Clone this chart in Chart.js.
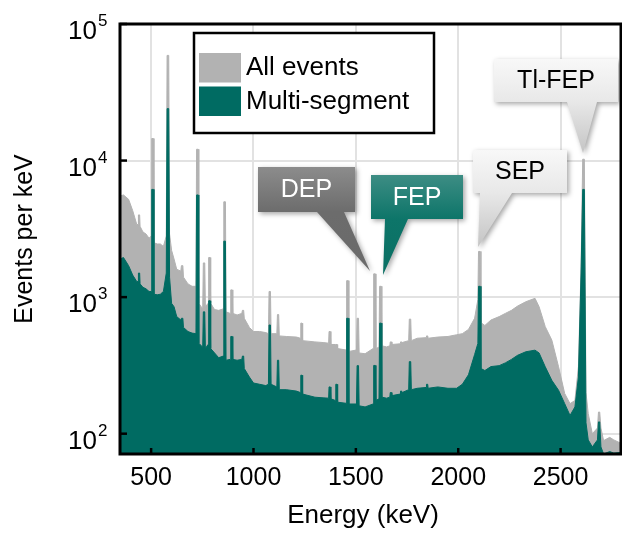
<!DOCTYPE html>
<html>
<head>
<meta charset="utf-8">
<script src="https://cdn.jsdelivr.net/npm/chart.js@4/dist/chart.umd.min.js"></script>
<style>
  html, body { margin: 0; padding: 0; background: #fff; }
  #wrap { width: 622px; height: 534px; }
</style>
</head>
<body>
<div id="wrap"><canvas id="spectrumChart" width="622" height="534"></canvas></div>
<script>
// Energia de cada punto (keV)
var energies = [
  348, 365, 390, 410, 430, 436, 438, 444, 446, 460,
  475, 490, 500, 503, 511, 514, 530, 545, 560, 574,
  578, 586, 590, 600, 612, 625, 645, 648, 655, 658,
  680, 700, 719, 722, 730, 733, 752, 755, 762, 765,
  778, 781, 788, 791, 810, 830, 852, 855, 863, 866,
  886, 889, 896, 899, 920, 943, 946, 952, 955, 980,
  1000, 1030, 1060, 1073, 1076, 1083, 1086, 1114, 1117, 1123,
  1126, 1160, 1210, 1229, 1231, 1237, 1240, 1300, 1340, 1367,
  1369, 1375, 1378, 1400, 1402, 1408, 1411, 1452, 1455, 1463,
  1466, 1503, 1506, 1513, 1516, 1545, 1584, 1587, 1595, 1598,
  1613, 1616, 1624, 1627, 1650, 1666, 1668, 1674, 1676, 1716,
  1718, 1724, 1726, 1758, 1761, 1768, 1771, 1800, 1843, 1845,
  1851, 1853, 1900, 1950, 1992, 2020, 2050, 2080, 2096, 2099,
  2107, 2111, 2130, 2160, 2200, 2230, 2260, 2290, 2330, 2375,
  2395, 2425, 2457, 2490, 2520, 2546, 2570, 2587, 2600, 2608,
  2616, 2624, 2635, 2655, 2680, 2685, 2691, 2697, 2710, 2740,
  2760, 2795
];

// Eventos por keV, todos los eventos
var allEvents = [
  5500, 5600, 5200, 4300, 3400, 3400, 4000, 4000, 3300, 3000,
  2900, 2700, 2800, 14500, 14500, 2500, 2450, 2450, 2350, 2800,
  58900, 58900, 2900, 2200, 1900, 1600, 1550, 1700, 1700, 1400,
  1250, 1200, 1200, 12100, 12100, 900, 820, 1780, 1780, 850,
  900, 1950, 1950, 900, 810, 800, 820, 4990, 4990, 780,
  760, 1130, 1130, 760, 740, 760, 800, 800, 700, 600,
  560, 560, 550, 540, 1100, 1100, 540, 540, 745, 745,
  520, 515, 510, 500, 645, 645, 480, 470, 465, 460,
  560, 560, 450, 450, 450, 450, 420, 410, 1320, 1320,
  400, 410, 700, 700, 390, 385, 420, 1480, 1480, 420,
  430, 1200, 1200, 440, 432, 440, 470, 470, 450, 455,
  470, 470, 465, 480, 690, 690, 480, 500, 505, 520,
  520, 500, 510, 515, 530, 540, 580, 700, 960, 2160,
  2160, 650, 620, 680, 720, 760, 800, 860, 925, 980,
  850, 608, 485, 309, 197, 166, 175, 309, 1670, 10230,
  10230, 200, 140, 100, 110, 144, 144, 110, 89, 94,
  90, 85
];

// Eventos por keV, multi-segmento
var multiSegment = [
  1900, 1950, 1700, 1450, 1300, 1300, 1500, 1500, 1250, 1180,
  1150, 1100, 1100, 6150, 6150, 1050, 1040, 1050, 1100, 1500,
  24000, 24000, 1400, 900, 850, 720, 680, 700, 700, 600,
  560, 545, 540, 5600, 5600, 460, 430, 780, 780, 420,
  450, 940, 940, 420, 390, 360, 370, 2570, 2570, 345,
  350, 515, 515, 350, 345, 350, 370, 370, 300, 260,
  235, 230, 225, 230, 625, 625, 230, 220, 345, 345,
  210, 210, 205, 200, 268, 268, 195, 185, 183, 182,
  220, 220, 180, 175, 230, 230, 170, 167, 700, 700,
  165, 165, 315, 315, 160, 157, 165, 316, 316, 175,
  180, 645, 645, 185, 182, 185, 200, 200, 190, 195,
  205, 205, 200, 210, 337, 337, 210, 215, 218, 230,
  230, 215, 220, 215, 215, 230, 270, 380, 458, 1200,
  1200, 300, 290, 310, 315, 330, 350, 375, 398, 409,
  390, 309, 246, 208, 166, 136, 157, 260, 1500, 6150,
  6150, 120, 90, 80, 90, 122, 122, 80, 71, 74,
  72, 73
];

var seriesLabels = ['All events', 'Multi-segment'];
var xTicks = [500, 1000, 1500, 2000, 2500];
var yTicks = [100, 1000, 10000, 100000];
var callouts = ['DEP', 'FEP', 'SEP', 'Tl-FEP'];

var GRAY = '#b2b2b2';
var TEAL = '#006b62';
var FONT = "'Liberation Sans', Arial, sans-serif";

function toPoints(values) {
    return energies.map(function(e, i) { return { x: e, y: values[i] }; });
}

// Cuadro de leyenda con borde negro
var legendBox = {
    id: 'legendBox',
    afterDatasetsDraw: function(chart) {
        var ctx = chart.ctx;
        ctx.save();
        ctx.fillStyle = '#fff';
        ctx.fillRect(194, 33, 240, 100);
        ctx.lineWidth = 2.5;
        ctx.strokeStyle = '#000';
        ctx.strokeRect(194, 33, 240, 100);
        var colors = [GRAY, TEAL];
        ctx.font = '26px ' + FONT;
        ctx.textBaseline = 'middle';
        seriesLabels.forEach(function(label, i) {
            ctx.fillStyle = colors[i];
            ctx.fillRect(199, 53 + i * 33.5, 42, 29.5);
            ctx.fillStyle = '#000';
            ctx.fillText(label, 246, 68 + i * 33.5);
        });
        ctx.restore();
    }
};

// Globos de texto sobre los picos
var calloutPlugin = {
    id: 'callouts',
    afterDatasetsDraw: function(chart) {
        var ctx = chart.ctx;
        var shapes = [
            { box: [258, 167, 97, 45], base: [317, 344], tip: [370, 271], top: '#8c8c8c', bottom: '#6c6c6c', tipColor: '#6a6a6a', text: '#fff' },
            { box: [371, 175, 92, 44], base: [385, 408], tip: [383, 275], top: '#3d8d84', bottom: '#0d7569', tipColor: '#0a6f63', text: '#fff' },
            { box: [473, 150, 94, 43], base: [480, 512], tip: [478, 247], top: '#f8f8f8', bottom: '#e8e8e8', tipColor: '#c4c4c4', text: '#000' },
            { box: [494, 59, 124, 43], base: [567, 597], tip: [583, 153], top: '#f8f8f8', bottom: '#e8e8e8', tipColor: '#c4c4c4', text: '#000' }
        ];
        ctx.save();
        shapes.forEach(function(s, i) {
            var x0 = s.box[0], y0 = s.box[1], x1 = x0 + s.box[2], y1 = y0 + s.box[3];
            var grad = ctx.createLinearGradient(0, y0, 0, s.tip[1]);
            var split = (y1 - y0) / (s.tip[1] - y0);
            grad.addColorStop(0, s.top);
            grad.addColorStop(split, s.bottom);
            grad.addColorStop(1, s.tipColor);
            ctx.beginPath();
            ctx.moveTo(x0, y0);
            ctx.lineTo(x1, y0);
            ctx.lineTo(x1, y1);
            ctx.lineTo(s.base[1], y1);
            ctx.lineTo(s.tip[0], s.tip[1]);
            ctx.lineTo(s.base[0], y1);
            ctx.lineTo(x0, y1);
            ctx.closePath();
            ctx.shadowColor = 'rgba(0,0,0,0.35)';
            ctx.shadowBlur = 5;
            ctx.shadowOffsetX = 2;
            ctx.shadowOffsetY = 2;
            ctx.fillStyle = grad;
            ctx.fill();
            ctx.shadowColor = 'transparent';
            ctx.fillStyle = s.text;
            ctx.font = '25px ' + FONT;
            ctx.textAlign = 'center';
            ctx.textBaseline = 'middle';
            ctx.fillText(callouts[i], (x0 + x1) / 2, (y0 + y1) / 2 + 1);
        });
        ctx.restore();
    }
};

// Marco, marcas hacia adentro, etiquetas 10^n y titulos de ejes
var framePlugin = {
    id: 'frame',
    afterDraw: function(chart) {
        var ctx = chart.ctx;
        var area = chart.chartArea;
        var xs = chart.scales.x, ys = chart.scales.y;
        ctx.save();
        ctx.strokeStyle = '#000';
        ctx.lineWidth = 2.5;
        yTicks.forEach(function(v) {
            var y = ys.getPixelForValue(v);
            ctx.beginPath();
            ctx.moveTo(area.left, y);
            ctx.lineTo(area.left + 7, y);
            ctx.stroke();
        });
        xTicks.forEach(function(v) {
            var x = xs.getPixelForValue(v);
            ctx.beginPath();
            ctx.moveTo(x, area.bottom);
            ctx.lineTo(x, area.bottom - 6);
            ctx.stroke();
        });
        ctx.lineWidth = 3;
        ctx.strokeRect(area.left, area.top, area.right - area.left, area.bottom - area.top);

        ctx.fillStyle = '#000';
        ctx.textBaseline = 'alphabetic';
        yTicks.forEach(function(v) {
            var y = ys.getPixelForValue(v) + 15;
            ctx.font = '26px ' + FONT;
            ctx.textAlign = 'right';
            ctx.fillText('10', 97, y);
            ctx.font = '17px ' + FONT;
            ctx.textAlign = 'left';
            ctx.fillText(String(Math.round(Math.log10(v))), 98, y - 13);
        });

        ctx.font = '26px ' + FONT;
        ctx.textAlign = 'center';
        ctx.fillText('Energy (keV)', 363, 523);

        ctx.translate(32, (area.top + area.bottom) / 2);
        ctx.rotate(-Math.PI / 2);
        ctx.font = '25px ' + FONT;
        ctx.fillText('Events per keV', 0, 0);
        ctx.restore();
    }
};

document.addEventListener('DOMContentLoaded', function() {
    var ctx = document.getElementById('spectrumChart');
    new Chart(ctx, {
        type: 'line',
        data: {
            datasets: [{
                label: seriesLabels[0],
                data: toPoints(allEvents),
                backgroundColor: GRAY,
                borderColor: GRAY,
                borderWidth: 1,
                fill: 'start',
                pointRadius: 0,
                tension: 0,
                order: 2
            }, {
                label: seriesLabels[1],
                data: toPoints(multiSegment),
                backgroundColor: TEAL,
                borderColor: TEAL,
                borderWidth: 1,
                fill: 'start',
                pointRadius: 0,
                tension: 0,
                order: 1
            }]
        },
        options: {
            responsive: false,
            animation: false,
            layout: { padding: { top: 24, right: 1, left: 0, bottom: 0 } },
            plugins: {
                legend: { display: false },
                tooltip: { enabled: false }
            },
            scales: {
                x: {
                    type: 'linear',
                    min: 348,
                    max: 2795,
                    afterBuildTicks: function(scale) {
                        scale.ticks = xTicks.map(function(v) { return { value: v }; });
                    },
                    afterFit: function(scale) { scale.height = 80; },
                    grid: { color: '#e2e2e2', lineWidth: 2, drawTicks: false },
                    border: { display: false },
                    ticks: {
                        color: '#000',
                        padding: 9,
                        maxRotation: 0,
                        font: { family: FONT, size: 25 },
                        callback: function(value) { return String(value); }
                    }
                },
                y: {
                    type: 'logarithmic',
                    min: 71,
                    max: 100000,
                    afterBuildTicks: function(scale) {
                        scale.ticks = yTicks.map(function(v) { return { value: v }; });
                    },
                    afterFit: function(scale) { scale.width = 120; },
                    grid: { color: '#e2e2e2', lineWidth: 2, drawTicks: false },
                    border: { display: false },
                    ticks: { display: false }
                }
            }
        },
        plugins: [legendBox, calloutPlugin, framePlugin]
    });
});
</script>
</body>
</html>
